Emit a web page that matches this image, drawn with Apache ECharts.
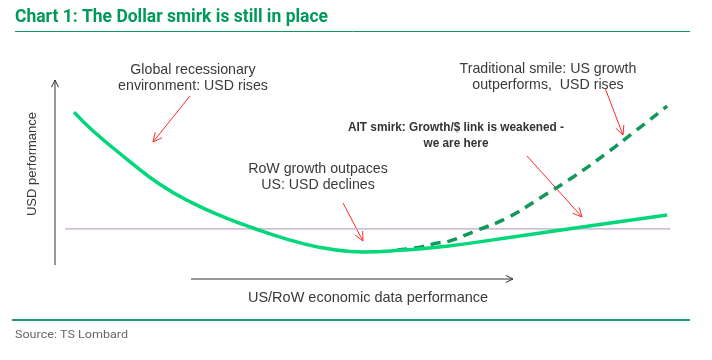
<!DOCTYPE html>
<html>
<head>
<meta charset="utf-8">
<script src="https://cdn.jsdelivr.net/npm/echarts@6/dist/echarts.min.js"></script>
<style>html,body{margin:0;padding:0;background:#fff}#c{width:712px;height:360px}</style>
</head>
<body>
<div id="c"></div>
<script>
// Schematic curve values (x: US/RoW data performance, y: USD performance)
var solidX = [3, 6, 11.3, 16.5, 21.7, 27, 31.2, 36, 41.3, 46.5, 48.5, 54.3, 62, 71, 83, 96.4];
var solidY = [73, 64.8, 52.6, 41.6, 33.4, 26.9, 22.6, 18.2, 14.4, 12.4, 12.2, 12.9, 14.8, 18.3, 23, 28.3];
var dashX = [53.9, 57.5, 60.2, 62.2, 65.8, 71.2, 76.4, 81.6, 86.9, 91, 96.4];
var dashY = [13, 14.3, 16.1, 17, 20.9, 27, 35.7, 44.8, 55.2, 63.9, 75.6];
var refX = [1.6, 96.9];
var refY = [22.2, 22.2];

function pairs(xs, ys) { return xs.map(function (x, i) { return [x, ys[i]]; }); }

var chart = echarts.init(document.getElementById('c'), null, {renderer: 'canvas'});

var measureCtx = document.createElement('canvas').getContext('2d');
function fitScale(text, font, target) {
  measureCtx.font = font;
  var w = measureCtx.measureText(text).width;
  return w > 0 ? target / w : 1;
}

function arrowHead(x1, y1, x2, y2, len, color, lw) {
  var a = Math.atan2(y2 - y1, x2 - x1);
  var s = 0.45;
  return [
    {type: 'line', silent: true, shape: {x1: x1, y1: y1, x2: x2, y2: y2}, style: {stroke: color, lineWidth: lw}},
    {type: 'polyline', silent: true, shape: {points: [
      [x2 - len * Math.cos(a - s), y2 - len * Math.sin(a - s)],
      [x2, y2],
      [x2 - len * Math.cos(a + s), y2 - len * Math.sin(a + s)]
    ]}, style: {stroke: color, lineWidth: lw, fill: null}}
  ];
}

var labelFont = '"Liberation Sans", Arial, sans-serif';
var txtColor = '#3a3a3a';

function txt(x, y, text, opt) {
  opt = opt || {};
  return {
    type: 'text', silent: true, x: x, y: y,
    rotation: opt.rotation || 0,
    scaleX: opt.scaleX || 1,
    style: {
      text: text,
      fill: opt.color || txtColor,
      font: opt.font || ('14.2px ' + labelFont),
      align: opt.align || 'center',
      verticalAlign: 'middle',
      lineHeight: opt.lineHeight || 16
    }
  };
}

var titleText = 'Chart 1: The Dollar smirk is still in place';
var titleFont = 'bold 18px Roboto';
var aitText = 'AIT smirk: Growth/$ link is weakened -\nwe are here';
var aitFont = 'bold 13px "Liberation Sans"';
var aitScale = fitScale('AIT smirk: Growth/$ link is weakened -', aitFont, 216);
var srcText = 'Source: TS Lombard';
var srcFont = '11.5px Roboto';

var graphics = [];
graphics.push(txt(15, 17, titleText, {align: 'left', font: titleFont, color: '#00995a', scaleX: fitScale(titleText, titleFont, 313)}));
graphics.push({type: 'line', silent: true, shape: {x1: 15, y1: 31.5, x2: 690, y2: 31.5}, style: {stroke: '#0a9a5e', lineWidth: 1}});
graphics.push({type: 'line', silent: true, shape: {x1: 12, y1: 320, x2: 690, y2: 320}, style: {stroke: '#1e9e6c', lineWidth: 2}});
graphics.push(txt(15, 335, srcText, {align: 'left', font: srcFont, color: '#666', scaleX: fitScale(srcText, srcFont, 113)}));

// axes arrows
graphics = graphics.concat(arrowHead(55, 265, 55, 80, 8, '#333', 1));
graphics = graphics.concat(arrowHead(191, 279, 513, 279, 8, '#333', 1));
graphics.push(txt(32, 164, 'USD performance', {rotation: Math.PI / 2, font: '13px ' + labelFont}));
graphics.push(txt(368, 298, 'US/RoW economic data performance', {font: '14.5px ' + labelFont}));

// annotations
graphics.push(txt(193, 78, 'Global recessionary\nenvironment: USD rises'));
graphics.push(txt(318, 177, 'RoW growth outpaces\nUS: USD declines'));
graphics.push(txt(548, 77, 'Traditional smile: US growth\noutperforms,  USD rises'));
graphics.push(txt(456, 135, aitText, {font: aitFont, color: '#333', scaleX: aitScale}));

var red = '#ff2a2a';
graphics = graphics.concat(arrowHead(190, 96, 153, 142, 10, red, 1));
graphics = graphics.concat(arrowHead(343, 203, 363, 241, 10, red, 1));
graphics = graphics.concat(arrowHead(527, 156, 582, 217, 10, red, 1));
graphics = graphics.concat(arrowHead(605, 88, 623, 135, 10, red, 1));

chart.setOption({
  animation: false,
  backgroundColor: '#fff',
  grid: {left: 55, right: 22, top: 50, bottom: 80},
  xAxis: {type: 'value', min: 0, max: 100, show: false},
  yAxis: {type: 'value', min: 0, max: 100, show: false},
  series: [
    {type: 'line', data: pairs(refX, refY), symbol: 'none', lineStyle: {color: '#bba8c6', width: 1.2}, z: 1},
    {type: 'line', data: pairs(dashX, dashY), symbol: 'none', smooth: 0.5,
     lineStyle: {color: '#12985a', width: 3.5, type: [10, 7]}, z: 2},
    {type: 'line', data: pairs(solidX, solidY), symbol: 'none', smooth: 0.5,
     lineStyle: {color: '#00d67a', width: 3.5}, z: 3}
  ],
  graphic: graphics
});
</script>
</body>
</html>
